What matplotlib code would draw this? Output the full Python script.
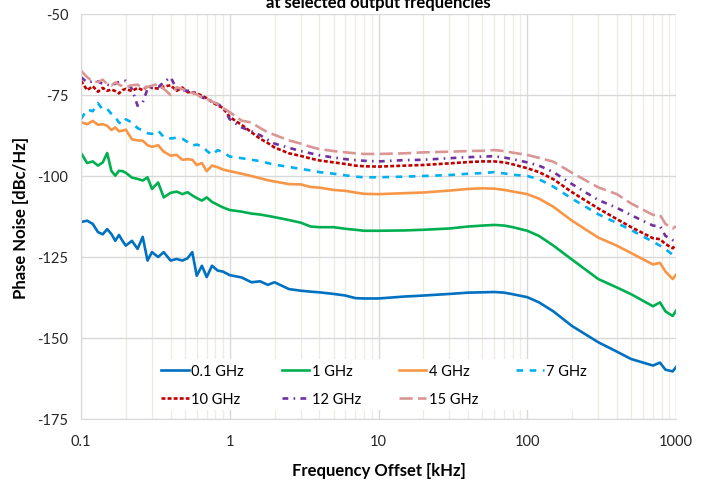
import numpy as np
import matplotlib.pyplot as plt

# offset frequency grid [kHz]
freq = [0.10, 0.11, 0.12, 0.13, 0.14, 0.15, 0.16, 0.17, 0.18, 0.19, 0.20, 0.22, 0.24, 0.26, 0.28,
        0.30, 0.33, 0.36, 0.40, 0.44, 0.48, 0.52, 0.56, 0.60, 0.65, 0.70, 0.76, 0.83, 0.90,
        1.0, 1.2, 1.4, 1.6, 1.8, 2.0, 2.5, 3, 3.5, 4, 5, 6, 7, 8, 10, 15, 20, 30, 40, 50,
        60, 70, 80, 100, 120, 150, 200, 300, 400, 500, 700, 780, 850, 950, 1000]

pn_01 = [-114.2, -113.8, -114.8, -117.3, -118.0, -116.4, -117.9, -120.0, -118.2, -120.0, -121.5,
         -120.0, -122.5, -118.8, -126.1, -123.5, -125.0, -123.5, -126.1, -125.6, -126.1, -125.4,
         -123.5, -130.8, -127.7, -131.2, -127.7, -129.2, -129.5,
         -130.6, -131.3, -132.8, -132.5, -133.6, -132.8, -134.9, -135.4, -135.7, -135.9, -136.4,
         -136.9, -137.7, -137.8, -137.8, -137.2, -136.9, -136.4, -136.0, -135.9,
         -135.8, -136.0, -136.5, -137.4, -139.0, -141.8, -146.3, -151.3, -154.2, -156.5,
         -158.5, -157.6, -159.8, -160.3, -159.0]

pn_1 = [-92.9, -96.0, -95.5, -96.8, -95.8, -92.9, -98.4, -99.9, -98.4, -98.5, -99.0,
        -100.5, -100.9, -101.4, -100.4, -104.0, -102.0, -106.6, -105.2, -104.8, -105.6, -105.0,
        -106.0, -106.8, -107.6, -106.6, -108.0, -108.9, -109.7,
        -110.5, -111.0, -111.6, -111.9, -112.3, -112.7, -113.6, -114.4, -115.6, -115.8, -115.8,
        -116.3, -116.6, -116.9, -116.9, -116.8, -116.6, -116.2, -115.6, -115.3,
        -115.1, -115.3, -115.8, -116.9, -118.5, -121.5, -125.8, -131.8, -134.4, -136.5,
        -140.2, -139.0, -141.8, -143.2, -141.6]

pn_4 = [-83.4, -84.0, -83.0, -84.2, -84.0, -84.5, -85.8, -85.0, -86.2, -86.0, -85.7,
        -88.7, -89.0, -89.1, -90.5, -91.0, -90.5, -92.5, -93.7, -93.5, -95.0, -94.8,
        -95.0, -96.6, -96.0, -98.5, -96.8, -97.3, -98.0,
        -98.5, -99.3, -100.0, -100.7, -101.3, -101.7, -102.5, -102.6, -103.4, -103.6, -104.3,
        -104.6, -105.1, -105.5, -105.6, -105.3, -105.1, -104.5, -104.0, -103.8,
        -103.9, -104.3, -104.8, -105.6, -107.0, -109.5, -113.8, -119.0, -121.5, -123.8,
        -127.3, -126.8, -129.5, -131.8, -130.5]

pn_7 = [-82.4, -79.5, -80.0, -77.5, -79.5, -79.3, -80.8, -81.8, -83.5, -84.0, -82.5,
        -83.5, -85.2, -86.0, -86.8, -87.0, -86.0, -88.0, -88.4, -88.2, -88.5, -89.5,
        -90.6, -90.3, -90.8, -92.2, -93.5, -92.0, -92.7,
        -94.0, -94.5, -95.0, -95.4, -96.0, -96.5, -97.2, -97.8, -98.3, -98.8, -99.3,
        -99.8, -100.2, -100.4, -100.4, -100.2, -100.0, -99.7, -99.3, -99.1,
        -98.8, -99.2, -99.6, -100.0, -101.0, -103.3, -107.0, -111.8, -114.5, -116.7,
        -120.3, -121.5, -122.6, -124.3, -124.8]

pn_10 = [-70.6, -73.5, -72.3, -74.0, -72.8, -73.7, -73.3, -73.8, -74.5, -73.5, -73.1,
         -73.8, -72.8, -73.5, -72.2, -72.8, -73.0, -72.4, -72.0, -73.7, -72.7, -74.1,
         -74.2, -74.5, -75.2, -76.0, -77.2, -78.2, -79.0,
         -81.8, -84.2, -86.5, -88.5, -89.8, -91.2, -93.0, -93.8, -94.6, -95.2, -95.8,
         -96.3, -96.8, -97.0, -97.1, -96.8, -96.6, -96.1, -95.7, -95.5,
         -95.5, -95.8, -96.4, -97.6, -98.8, -101.0, -105.0, -110.0, -113.3, -115.8,
         -119.2, -119.5, -121.0, -122.3, -121.3]

pn_12 = [-69.5, -71.1, -70.8, -70.8, -71.6, -71.8, -72.1, -71.5, -71.0, -70.8, -70.6,
         -73.1, -78.3, -77.3, -73.1, -72.8, -72.6, -71.1, -69.5, -73.1, -73.5, -73.7,
         -73.7, -74.8, -75.7, -76.3, -76.8, -77.8, -78.8,
         -82.5, -85.0, -86.2, -87.4, -88.8, -90.0, -91.3, -92.3, -93.0, -93.6, -94.3,
         -94.8, -95.1, -95.3, -95.5, -95.1, -95.0, -94.5, -94.2, -94.0,
         -93.9, -94.3, -94.8, -95.8, -96.8, -98.8, -102.5, -107.4, -109.8, -112.1,
         -115.3, -115.5, -118.5, -119.8, -120.0]

pn_15 = [-67.5, -69.5, -70.8, -71.0, -70.3, -71.6, -72.1, -71.1, -71.8, -72.3, -72.6,
         -72.0, -71.8, -73.0, -72.5, -72.1, -71.6, -73.1, -75.0, -72.6, -73.2, -73.7,
         -74.4, -74.8, -75.8, -76.2, -77.0, -77.8, -79.0,
         -80.3, -82.9, -83.5, -85.2, -86.5, -87.3, -89.0, -90.0, -91.0, -91.7, -92.3,
         -92.7, -93.0, -93.2, -93.2, -93.0, -92.7, -92.5, -92.3, -92.2,
         -92.0, -92.3, -92.8, -93.5, -94.4, -95.6, -99.0, -103.5, -105.6, -108.5,
         -112.0, -112.0, -114.8, -116.2, -115.5]

labels = ['0.1 GHz', '1 GHz', '4 GHz', '7 GHz', '10 GHz', '12 GHz', '15 GHz']
series = [pn_01, pn_1, pn_4, pn_7, pn_10, pn_12, pn_15]
colors = ['#0070C0', '#00B050', '#F79646', '#00B0F0', '#C00000', '#7030A0', '#D99694']
dashes = [None, None, None, (2.5, 2.5), (1.5, 0.8), (2.2, 2.0, 0.6, 2.0), (5.0, 2.0)]

plt.rcParams['font.family'] = ['Lato', 'DejaVu Sans']
plt.rcParams['axes.unicode_minus'] = False

fig = plt.figure(figsize=(7.09, 4.85), dpi=100)
ax = fig.add_axes([81/709, 1 - 420/485, 595/709, 405/485])

lines = []
for vals, lab, c, d in zip(series, labels, colors, dashes):
    line, = ax.plot(freq, vals, color=c, lw=1.9, label=lab)
    if d is not None:
        line.set_dashes(d)
        line.set_dash_capstyle('butt')
    lines.append(line)

ax.set_xscale('log')
ax.set_xlim(0.1, 1000)
ax.set_ylim(-175, -50)
ax.set_yticks(np.arange(-175, -49, 25))
ax.set_xticks([0.1, 1, 10, 100, 1000])
ax.set_xticklabels(['0.1', '1', '10', '100', '1000'])
ax.grid(True, which='major', color='#d9d9d9', lw=1.0)
ax.grid(True, which='minor', axis='x', color='#efebe2', lw=1.0)
ax.set_axisbelow(True)
ax.tick_params(which='both', length=0, labelsize=10.5, labelcolor='#262626')
ax.tick_params(axis='x', pad=11)
ax.tick_params(axis='y', pad=9)
for s in ['top', 'right']:
    ax.spines[s].set_visible(False)
for s in ['left', 'bottom']:
    ax.spines[s].set_color('#d9d9d9')

ax.set_xlabel('Frequency Offset [kHz]', fontsize=12, fontweight='bold', labelpad=10)
ax.set_ylabel('Phase Noise [dBc/Hz]', fontsize=12, fontweight='bold', labelpad=6)

fig.text(0.534, 1 - 8/485, 'at selected output frequencies', ha='center', va='baseline',
         fontsize=12, fontweight='bold')

# legend filled row by row like the original
order = [0, 4, 1, 5, 2, 6, 3]
leg = ax.legend([lines[i] for i in order], [labels[i] for i in order],
                ncol=4, loc='upper left', bbox_to_anchor=(0.115, 0.165), fontsize=10.5,
                frameon=True, facecolor='white', edgecolor='none', framealpha=1,
                handlelength=1.9, handletextpad=0.15, columnspacing=2.6, labelspacing=0.95,
                borderpad=0.3)

plt.savefig('out.png', dpi=100)
